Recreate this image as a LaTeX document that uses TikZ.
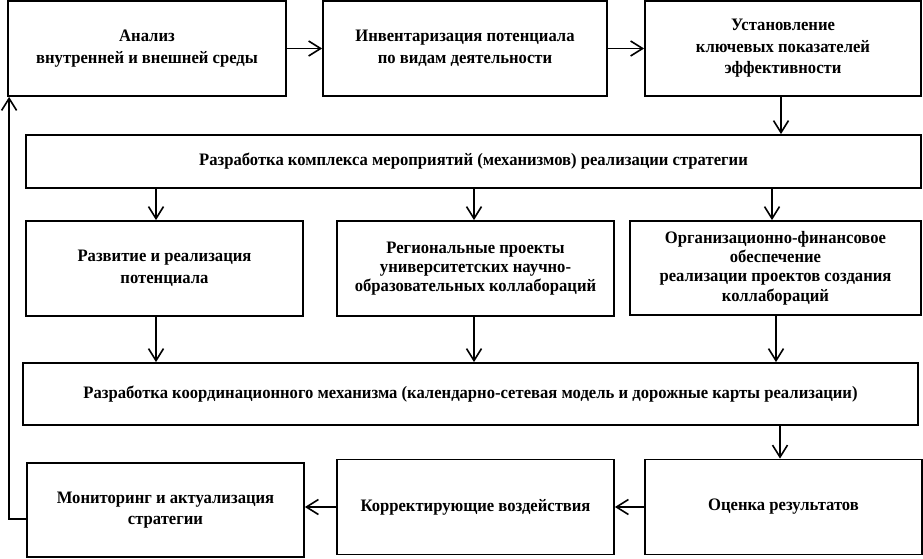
\documentclass[tikz,border=0pt]{standalone}
\usepackage{fontspec}
\setmainfont{Liberation Serif}[BoldFeatures={FakeStretch=0.95}]
\usetikzlibrary{arrows.meta}
\begin{document}
\begin{tikzpicture}[x=1pt,y=-1pt,
  box/.style={draw, line width=1.8pt, rectangle, inner sep=0pt, align=center,
    font=\bfseries\fontsize{17.5}{21.5}\selectfont},
  tightbox/.style={box, font=\bfseries\fontsize{17.5}{19.2}\selectfont},
  arr/.style={line width=1.6pt, -{Straight Barb[length=12pt,width=15pt,line width=1.6pt]}}]
\useasboundingbox (0,0) rectangle (923,559);
\fill[white] (0,0) rectangle (923,559);
\node[box, minimum width=278pt, minimum height=95pt] (A) at (147,48.5) {Анализ\\внутренней и внешней среды};
\node[box, minimum width=284pt, minimum height=95pt] (B) at (465,48.5) {Инвентаризация потенциала\\по видам деятельности};
\node[box, minimum width=276pt, minimum height=95pt] (C) at (783,48.5) {Установление\\ключевых показателей\\эффективности};
\node[box, minimum width=895pt, minimum height=53pt] (D) at (473.5,161.5) {Разработка комплекса мероприятий (механизмов) реализации стратегии};
\node[box, minimum width=277pt, minimum height=95pt] (E) at (164.5,268.5) {Развитие и реализация\\потенциала};
\node[tightbox, minimum width=277pt, minimum height=95pt] (F) at (475.5,268.5) {Региональные проекты\\университетских научно-\\образовательных коллабораций};
\node[tightbox, minimum width=291pt, minimum height=94pt] (G) at (775.5,268) {Организационно-финансовое\\обеспечение\\реализации проектов создания\\коллабораций};
\node[box, minimum width=895pt, minimum height=62pt] (H) at (470.5,394) {Разработка координационного механизма (календарно-сетевая модель и дорожные карты реализации)};
\node[box, minimum width=277pt, minimum height=94pt] (I) at (165.5,510) {Мониторинг и актуализация\\стратегии};
\node[box, minimum width=277pt, minimum height=95pt] (J) at (475.5,507) {Корректирующие воздействия};
\node[box, minimum width=277pt, minimum height=95pt] (K) at (783.5,507) {Оценка результатов};
\draw[arr] (A.east) -- (B.west);
\draw[arr] (B.east) -- (C.west);
\draw[arr] ([xshift=-2pt]C.south) -- ([xshift=-2pt]C.south |- D.north);
\draw[arr] ([xshift=-8.5pt]E.north |- D.south) -- ([xshift=-8.5pt]E.north);
\draw[arr] ([xshift=-1.5pt]F.north |- D.south) -- ([xshift=-1.5pt]F.north);
\draw[arr] ([xshift=-3.5pt]G.north |- D.south) -- ([xshift=-3.5pt]G.north);
\draw[arr] ([xshift=-8.5pt]E.south) -- ([xshift=-8.5pt]E.south |- H.north);
\draw[arr] ([xshift=-1.5pt]F.south) -- ([xshift=-1.5pt]F.south |- H.north);
\draw[arr] ([xshift=0.5pt]G.south) -- ([xshift=0.5pt]G.south |- H.north);
\draw[arr] ([xshift=-3.5pt]K.north |- H.south) -- ([xshift=-3.5pt]K.north);
\draw[arr] (K.west) -- (J.west -| J.east);
\draw[arr] (J.west) -- (J.west -| I.east);
\coordinate (fb) at ([xshift=2pt]A.south west);
\draw[arr] ([yshift=-9pt]I.west) -| (fb);
\end{tikzpicture}
\end{document}
